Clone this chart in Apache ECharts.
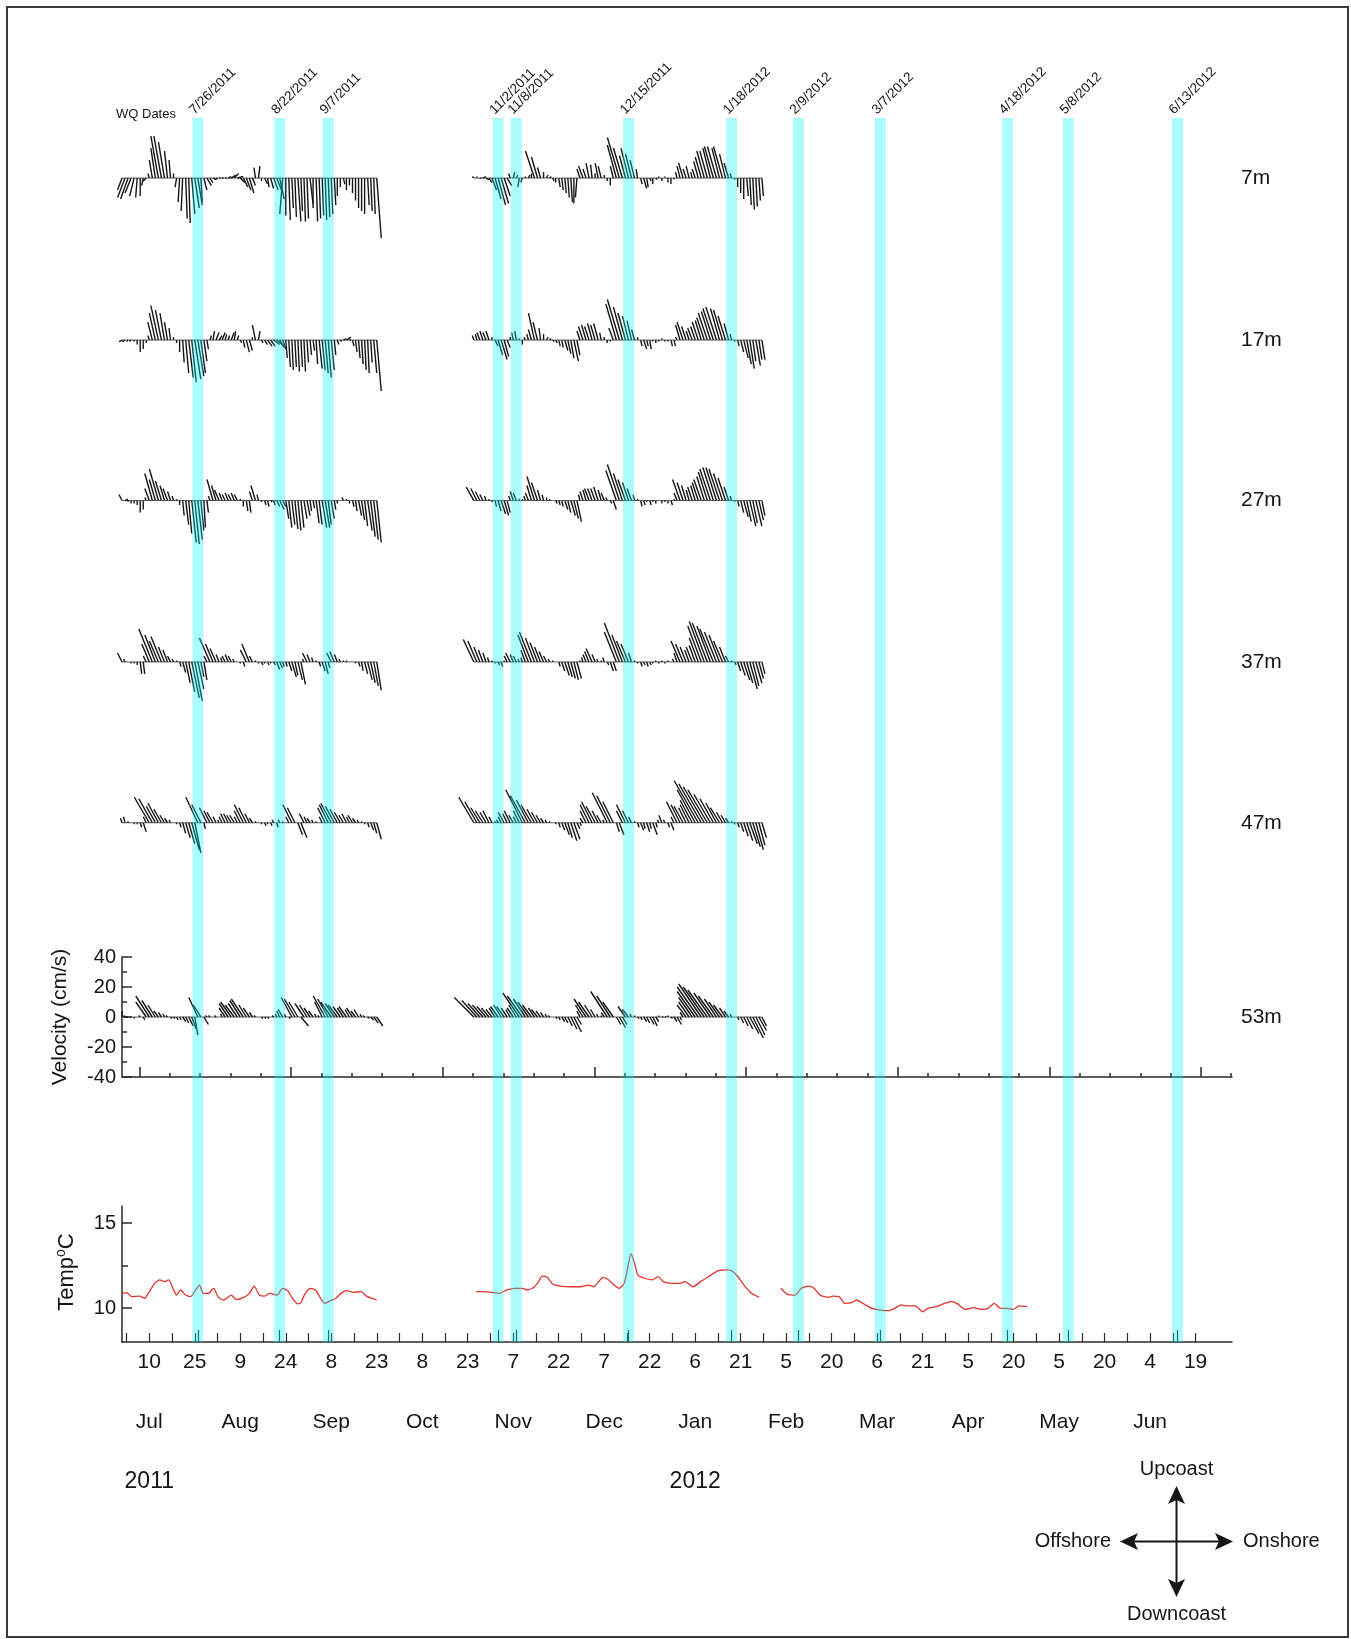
<!DOCTYPE html>
<html>
<head>
<meta charset="utf-8">
<title>Current velocity and temperature, Jul 2011 - Jun 2012</title>
<script src="https://cdn.jsdelivr.net/npm/echarts@6/dist/echarts.min.js"></script>
<style>
  html, body { margin: 0; padding: 0; background: #fff; }
  #chart { width: 1351px; height: 1639px; }
</style>
</head>
<body>
<div id="chart"></div>
<script>
// ---------------------------------------------------------------------------
// Data
// ---------------------------------------------------------------------------
// Water-quality sampling dates (shaded bands)
const wqDates = ['7/26/2011', '8/22/2011', '9/7/2011', '11/2/2011', '11/8/2011', '12/15/2011',
  '1/18/2012', '2/9/2012', '3/7/2012', '4/18/2012', '5/8/2012', '6/13/2012'];

// Labelled ticks of the time axis (every 15 days)
const tickDates = ['2011-07-10', '2011-07-25', '2011-08-09', '2011-08-24', '2011-09-08', '2011-09-23',
  '2011-10-08', '2011-10-23', '2011-11-07', '2011-11-22', '2011-12-07', '2011-12-22',
  '2012-01-06', '2012-01-21', '2012-02-05', '2012-02-20', '2012-03-06', '2012-03-21',
  '2012-04-05', '2012-04-20', '2012-05-05', '2012-05-20', '2012-06-04', '2012-06-19'];
const monthNames = ['Jan', 'Feb', 'Mar', 'Apr', 'May', 'Jun', 'Jul', 'Aug', 'Sep', 'Oct', 'Nov', 'Dec'];

// Velocity records: daily sticks, two deployments
const deployStartA = '2011-07-01';
const deployStartB = '2011-10-25';
const depths = ['7m', '17m', '27m', '37m', '47m', '53m'];

// v = upcoast(+)/downcoast(-), u = onshore(+)/offshore(-), cm/s
const v7a = [-8,-13,-14,-10,-12,-13,-12,-5,-2,3, 12,20,28,28,24,18,12,3,-6,-16, -22,-27,-30,-24,-20,-18,-16,-8,-5,-3,
  -1,-1,0,0,0,1,2,3,1,-3, -6,-8,-10,-5,7,8,-2,-4,-6,-7, -8,-10,-14,-24,-25,-28,-20,-26,-29,-22,
  -29,-27,-17,-20,-29,-27,-25,-28,-26,-24, -18,-12,-6,-4,-8,-5,-10,-15,-20,-22, -24,-18,-22,-24,-40];
const u7a = [-3,-5,-5,-4,-3,-1,0,-1,-2,-1, -2,-3,-5,-5,-4,-2,-1,0,-1,-1, -1,1,1,2,3,3,1,2,3,2,
  2,1,1,1,1,2,3,3,4,3, 3,3,3,2,-1,1,0,2,1,2, 3,4,3,-2,0,1,1,1,2,1,
  1,1,2,0,1,1,1,1,1,1, 1,0,0,1,0,0,0,0,0,0, 0,1,1,1,3];
const v7b = [1,1,0,1,-1,-3,-8,-14,-18,-17, -12,-5,3,4,2,-6,-3,1,2,3, 18,14,7,4,2,1,-2,-3,-6,-8,
  -10,-13,-16,-17,-13,6,8,6,10,9, 3,10,8,2,-2,-5,8,22,27,20, 15,20,16,12,6,-4,-7,-6,-2,-4,
  -1,1,-2,1,-3,-4,-1,4,8,10, 6,8,4,6,11,14,18,18,20,21, 21,20,21,16,10,3,-1,-6,-10,-14, -12,-18,-21,-19,-15,-12];
const u7b = [-1,0,1,2,2,2,3,4,5,5, 4,3,-1,1,1,-1,-1,0,1,0, -6,-4,-2,0,1,1,1,0,1,1,
  1,1,1,0,-1,-2,-3,-2,-2,-1, 0,-2,-2,0,0,0,-2,-6,-8,-6, -4,-5,-4,-3,-1,1,2,1,1,0,
  1,0,0,0,0,0,0,-1,-2,-3, -2,-2,-1,-2,-3,-4,-5,-5,-5,-6, -6,-5,-6,-4,-3,-1,0,0,0,0, 1,1,1,1,1,1];

const v17a = [-1,-1,-1,-1,-1,-3,-8,-6,-2,3, 12,18,23,20,18,12,8,2,-2,-8, -15,-22,-25,-28,-26,-24,-22,-14,-6,3,
  6,5,3,5,4,3,5,6,3,-2, -5,-8,-7,2,10,6,-2,-3,-4,-4, -3,-4,-5,-6,-12,-18,-20,-18,-21,-18,
  -21,-15,-10,-7,-16,-19,-20,-22,-25,-20, -10,-3,-1,1,2,0,-4,-8,-12,-16, -20,-22,-15,-22,-34];
const u17a = [-2,-2,-1,-1,0,0,0,0,0,-1, -3,-4,-5,-4,-3,-2,-1,0,0,0, 1,2,3,3,4,4,3,2,1,1,
  1,2,2,2,1,1,2,1,1,1, 1,2,2,0,-2,1,1,2,3,3, 4,5,3,2,1,1,1,1,1,1,
  1,1,1,1,1,2,2,2,2,2, 1,1,1,2,3,1,1,1,1,1, 1,1,1,2,3];
const v17b = [3,4,5,6,5,6,2,-4,-10,-13, -11,-5,2,5,6,1,-3,2,4,7, 18,12,8,4,2,1,-1,-2,-4,-5,
  -7,-9,-12,-14,-10,6,9,10,9,11, 10,11,5,2,-2,-1,8,24,27,22, 18,16,13,7,2,-4,-6,-4,-6,-1,
  -2,-1,1,-1,-1,-4,-4,2,10,12, 9,6,8,9,12,13,15,18,19,21, 22,21,20,16,11,4,-1,-4,-8,-12, -16,-19,-14,-17,-13,-13];
const u17b = [-1,-1,-2,-2,-2,-2,0,2,3,4, 3,2,0,-1,-1,0,0,-1,-1,-2, -4,-3,-1,0,1,1,1,1,1,1,
  2,2,2,3,2,-2,-3,-3,-3,-3, -3,-3,-1,0,0,0,-3,-7,-8,-6, -5,-4,-3,-2,0,1,2,1,1,0,
  0,0,0,0,0,1,1,-1,-3,-4, -3,-2,-3,-3,-4,-4,-5,-6,-6,-7, -7,-6,-6,-5,-3,-1,0,1,2,3, 3,3,2,3,2,2];

const v27a = [4,1,-1,-2,-2,-3,-8,-6,2,8, 18,14,21,13,10,8,6,3,1,-3, -10,-16,-22,-28,-29,-26,-20,-18,-8,3,
  14,10,7,5,4,5,4,5,4,1, -4,-7,-8,6,10,4,-1,-3,-4,-1, -3,-4,-6,-4,-12,-18,-16,-19,-20,-18,
  -12,-10,-7,-5,-15,-16,-18,-18,-16,-12, -6,-2,0,2,1,-2,-4,-7,-10,-13, -17,-20,-24,-26,-28];
const u27a = [-2,2,0,0,0,0,0,0,-1,-3, -5,-4,-6,-4,-3,-3,-2,-1,0,0, 1,2,2,3,3,3,2,1,1,-1,
  -4,-3,-3,-2,-2,-2,-2,-2,-2,0, 0,1,1,-2,-3,-1,0,1,1,1, 1,2,3,2,2,2,2,2,2,2,
  2,2,1,1,2,2,3,3,2,2, 1,0,0,-1,0,0,1,1,2,2, 2,3,3,3,3];
const v27b = [9,8,6,4,3,1,-1,-4,-7,-9, -10,-8,3,6,5,1,1,3,5,10, 16,12,7,4,2,1,0,-2,-3,-4,
  -6,-8,-10,-12,-14,4,6,7,8,8, 8,9,7,5,2,-2,-6,20,24,18, 14,12,8,4,1,-4,-3,-1,-3,-1,
  -2,0,-2,-1,-2,-3,1,5,14,12, 10,7,9,10,12,14,16,19,21,22, 22,21,18,15,9,3,-1,-4,-8,-11, -14,-17,-15,-17,-13,-10];
const u27b = [-5,-4,-3,-2,-1,0,0,1,2,3, 3,2,-1,-2,-2,0,0,-1,-2,-3, -5,-4,-2,-1,0,0,0,1,1,1,
  2,2,3,3,3,-1,-2,-2,-3,-3, -3,-3,-2,-2,-1,1,2,-7,-8,-6, -5,-4,-3,-1,0,1,1,0,1,0,
  0,0,0,0,0,1,0,-2,-5,-4, -3,-2,-3,-3,-4,-5,-5,-6,-7,-7, -7,-7,-6,-5,-3,-1,0,1,2,3, 3,4,3,4,3,2];

const v37a = [6,2,0,-1,-1,-2,-8,-8,4,12, 22,18,14,17,10,8,4,2,1,-3, -7,-14,-20,-24,-26,-18,-10,-12,4,16,
  12,9,5,3,4,5,4,2,0,-1, -3,8,12,4,1,-1,-2,-1,-2,-1, -2,-5,-4,-3,-3,-6,-10,-9,-12,-15,
  2,6,5,3,1,-3,-6,-8,-4,6, 7,5,2,1,1,0,0,-1,-3,-6, -8,-12,-14,-16,-19];
const u37a = [-3,-1,0,0,0,0,1,1,-2,-5, -9,-7,-6,-7,-4,-3,-2,-1,0,1, 2,3,4,5,5,4,2,2,-2,-7,
  -5,-4,-2,-1,-2,-2,-2,-1,0,0, 1,-4,-5,-2,0,0,1,0,1,0, 1,2,2,1,1,2,3,2,3,3,
  -1,-3,-2,-1,0,1,2,2,1,-3, -3,-2,-1,0,0,0,0,0,1,1, 2,3,3,3,3];
const v37b = [15,14,10,8,6,3,1,-1,-2,-3, 1,4,6,5,4,2,3,8,18,20, 16,13,10,7,4,2,1,0,-3,-6,
  -9,-10,-11,-12,-11,1,3,5,7,9, 5,2,1,3,-2,-6,-6,20,26,18, 14,12,6,1,-1,-3,-2,-3,-2,-1,
  1,-1,1,-1,1,0,2,6,14,12, 10,8,10,11,16,24,27,26,24,22, 20,18,14,10,4,1,-2,-6,-9,-12, -14,-18,-16,-14,-11,-8];
const u37b = [-7,-6,-4,-3,-2,-1,0,0,1,1, 0,-2,-3,-2,-2,-1,-1,-3,-7,-8, -6,-5,-4,-3,-2,-1,0,0,1,2,
  3,3,3,3,3,0,-1,-2,-3,-4, -2,-1,0,-1,1,2,2,-8,-10,-7, -6,-5,-2,0,0,1,1,1,1,0,
  0,0,0,0,0,0,-1,-2,-6,-5, -4,-3,-4,-4,-6,-9,-10,-10,-9,-9, -8,-7,-6,-4,-2,0,1,2,3,4, 4,5,4,4,3,2];

const v47a = [3,4,1,0,-1,-1,-3,-6,4,17, 16,11,13,9,5,3,2,0,-1,-3, -7,-10,-14,-18,-20,17,12,-4,10,8,
  7,4,2,4,6,6,5,5,4,8, 12,10,6,3,1,0,-1,-2,-1,-2, 2,-3,2,1,0,4,12,10,-8,-10,
  6,4,3,2,1,0,4,10,12,13, 11,9,7,5,6,4,5,3,2,1, -1,-3,-5,-7,-11];
const u47a = [-1,-1,0,0,0,0,1,2,-2,-10, -9,-6,-7,-5,-3,-2,-1,0,0,1, 2,3,4,5,4,-8,-6,1,-5,-4,
  -4,-2,-1,-2,-3,-3,-3,-3,-2,-4, -6,-5,-3,-2,0,0,0,1,0,1, -1,1,-1,0,0,-2,-6,-5,3,4,
  -3,-2,-2,-1,0,0,-2,-5,-6,-7, -6,-5,-4,-3,-3,-2,-3,-2,-1,0, 0,1,2,2,3];
const v47b = [17,14,10,8,7,8,4,1,2,4, 7,6,8,5,4,8,22,18,15,12, 9,7,5,3,2,1,0,-1,-3,-5,
  -8,-10,-12,-11,-4,-2,3,8,12,14, 11,8,5,2,20,18,14,-6,-8,8, 12,8,4,1,-3,-5,-4,-6,-4,-8,
  -3,2,5,2,-3,-5,4,14,12,11, 10,12,15,22,28,26,24,22,19,16, 13,10,7,5,3,1,-1,-3,-6,-9, -12,-14,-16,-18,-15,-10];
const u47b = [-10,-8,-6,-5,-4,-4,-2,0,-1,-2, -4,-3,-4,-3,-2,-4,-11,-10,-8,-7, -5,-4,-3,-2,-1,0,0,0,1,2,
  3,3,4,4,2,1,-2,-4,-6,-7, -6,-4,-3,-1,-10,-9,-7,2,3,-4, -6,-4,-2,0,1,2,1,2,1,3,
  1,-1,-2,-1,1,2,-2,-7,-6,-6, -5,-6,-8,-12,-16,-15,-14,-13,-11,-9, -7,-6,-4,-3,-2,0,0,1,2,3, 4,5,5,5,4,3];

const v53a = [4,1,0,0,-1,0,1,-2,10,14, 11,8,4,3,2,1,-1,-1,-2,-2, -3,-4,-6,-8,-12,13,8,-5,1,1,
  0,1,0,2,6,9,10,8,9,11, 12,8,6,3,1,0,-1,-1,-1,0, 1,2,4,5,2,-1,13,12,10,-6,
  9,8,6,4,2,1,10,14,12,10, 9,8,7,6,7,5,6,4,5,2, 1,-1,-2,-4,-6];
const u53a = [0,-1,-2,-1,0,0,-1,1,-7,-9, -7,-5,-3,-2,-1,-1,1,1,1,1, 2,2,3,3,2,-6,-5,3,-1,-1,
  0,-1,0,-1,-4,-6,-7,-6,-6,-7, -8,-5,-4,-2,-1,0,1,1,1,0, -1,-1,-2,-3,-1,1,-7,-7,-6,5,
  -6,-5,-4,-3,-1,-1,-5,-8,-7,-7, -6,-6,-5,-4,-5,-3,-4,-3,-3,-1, -1,1,2,3,4];
const v53b = [13,11,9,8,7,6,5,6,7,8, 7,6,5,6,8,16,14,12,10,8, 6,5,4,3,2,1,0,-1,-2,-3,
  -4,-6,-8,-10,-5,4,8,12,10,8, 5,2,1,3,17,14,10,-5,-7,-5, 7,5,2,1,-1,-2,-3,-4,-5,-6,
  -3,1,0,0,1,-1,-3,-5,-2,3, 8,10,13,17,20,22,20,18,16,14, 12,10,8,6,4,2,0,-2,-4,-6, -8,-11,-14,-12,-9,-6];
const u53b = [-13,-10,-8,-7,-6,-5,-4,-4,-5,-5, -5,-4,-3,-4,-5,-11,-10,-8,-7,-6, -4,-4,-3,-2,-1,-1,0,1,1,2,
  2,3,4,5,3,-2,-5,-8,-7,-5, -3,-1,0,-2,-11,-9,-7,3,4,3, -5,-4,-1,0,1,1,2,2,3,3,
  2,0,1,1,0,1,2,3,1,-2, -6,-7,-9,-12,-14,-15,-14,-13,-11,-10, -8,-7,-6,-4,-3,-1,0,1,2,3, 4,6,7,6,5,3];

// Temperature (deg C) at [days after 1 Jul 2011, value], three records
const tempJulSep = [[0,10.86],[1.6,10.9],[3.2,10.67],[5.8,10.7],[7.5,10.57],[9,10.96],[10.8,11.45],[12.5,11.65],
  [14,11.55],[15.4,11.65],[17,11.06],[18,10.76],[19.3,11.06],[21,10.76],[22.6,10.67],[24.3,11.06],[25.5,11.35],
  [26.8,10.86],[28.5,10.86],[30.2,11.16],[31.8,10.63],[33.5,10.47],[36,10.76],[37.7,10.5],[40.2,10.63],[42,10.86],
  [43.6,11.29],[45.3,10.76],[47,10.7],[48.7,10.86],[51.2,10.76],[52.9,11.16],[54.6,11.02],[56.2,10.57],[57.9,10.24],
  [59,10.31],[60.4,10.86],[62.1,11.16],[63.8,11.06],[65.5,10.57],[66.8,10.27],[68.8,10.43],[70.5,10.57],[72.2,10.86],
  [73.9,11.02],[76.4,10.92],[78.9,10.96],[80.6,10.7],[84,10.47]];
const tempOctJan = [[116.8,10.96],[119.3,10.96],[121.8,10.92],[124.4,10.86],[126.9,11.06],[129.4,11.16],[132,11.16],
  [133.6,11.06],[135.3,11.16],[137,11.45],[138.6,11.88],[140.3,11.8],[142,11.41],[144.5,11.29],[147.9,11.25],
  [151.3,11.25],[153.8,11.35],[155.5,11.25],[157.2,11.55],[158.5,11.8],[160.5,11.65],[162.2,11.35],[163.9,11.16],
  [165.6,11.45],[166.7,12.33],[167.8,13.2],[169,12.63],[170.1,11.94],[172.3,11.75],[174.8,11.65],[176.8,11.84],
  [178.5,11.55],[181.5,11.45],[184,11.45],[185.7,11.55],[188.3,11.25],[190.8,11.55],[193.3,11.84],[196.7,12.2],
  [199.2,12.24],[200.9,12.2],[202.6,11.94],[205.1,11.35],[207.6,10.86],[210.1,10.63]];
const tempFebApr = [[217.2,11.16],[219.3,10.82],[222,10.76],[224,11.16],[226.4,11.29],[228.2,11.16],[230.2,10.76],
  [233,10.63],[234.3,10.7],[236.4,10.67],[238.4,10.27],[240.5,10.31],[242.2,10.47],[244.6,10.24],[247.3,9.98],
  [250,9.88],[252.8,9.84],[254.8,9.98],[256.9,10.18],[258.9,10.12],[261.6,10.12],[264,9.78],[265.7,9.98],
  [268.5,10.08],[271.2,10.27],[273.3,10.37],[275.3,10.27],[278,9.92],[280.8,10.02],[283.5,9.92],[285.5,9.98],
  [287.6,10.27],[289.7,9.98],[291.7,9.98],[293.8,9.92],[295.8,10.12],[298.5,10.08]];

// ---------------------------------------------------------------------------
// Helpers
// ---------------------------------------------------------------------------
const ORIGIN = Date.UTC(2011, 6, 1);
const DAY = 864e5;
const isoDay = s => { const [y, m, d] = s.split('-').map(Number); return (Date.UTC(y, m - 1, d) - ORIGIN) / DAY; };
const usDay = s => { const [m, d, y] = s.split('/').map(Number); return (Date.UTC(y, m - 1, d) - ORIGIN) / DAY; };

const FONT = '"Liberation Sans", Arial, Helvetica, sans-serif';
const INK = '#151515';
const AXIS = '#2a2a2a';

const wqDays = wqDates.map(usDay);
const labelDays = tickDates.map(isoDay);
// 7.5-day tick spacing on the time axis
const tempTicks = [labelDays[0] - 7.5];
labelDays.forEach((d, i) => { tempTicks.push(d); if (i < labelDays.length - 1) tempTicks.push((d + labelDays[i + 1]) / 2); });
// Velocity panel: ticks every 10 days, longer ones every 50 days
const velTicks = [], velMajor = [];
for (let k = 0; k < 37; k++) { const t = 5.75 + 10 * k; velTicks.push(t); if (k % 5 === 0) velMajor.push(t); }

// Vertical offset of each depth's zero line in the stick panel (cm/s units)
const depthOffsets = [559.3, 451.3, 344.3, 236.7, 129.5, 0];
const depthRecords = [
  [v7a, u7a, v7b, u7b], [v17a, u17a, v17b, u17b], [v27a, u27a, v27b, u27b],
  [v37a, u37a, v37b, u37b], [v47a, u47a, v47b, u47b], [v53a, u53a, v53b, u53b]
];

const startA = isoDay(deployStartA), startB = isoDay(deployStartB);
function stickData(rec, base) {
  const out = [];
  const push = (vArr, uArr, start) => vArr.forEach((v, i) =>
    out.push([start + i, base, uArr[i], v, i === vArr.length - 1 ? 1 : 0]));
  push(rec[0], rec[1], startA);
  push(rec[2], rec[3], startB);
  return out;
}

function renderStick(params, api) {
  const p = api.coord([api.value(0), api.value(1)]);
  const s = api.size([1, 1]);        // [px per day, px per cm/s]
  const k = s[1];
  const children = [];
  if (!api.value(4)) {
    children.push({ type: 'line', shape: { x1: p[0], y1: p[1], x2: p[0] + s[0], y2: p[1] },
      style: { stroke: '#5a5a5a', lineWidth: 1 } });
  }
  children.push({ type: 'line',
    shape: { x1: p[0], y1: p[1], x2: p[0] + api.value(2) * k, y2: p[1] - api.value(3) * k },
    style: { stroke: INK, lineWidth: 1.4 } });
  return { type: 'group', children };
}

const BAND_TOP = 118;
function renderBand(params, api) {
  const d = api.value(0);
  const l = api.coord([d - 1.8, 8]);
  const r = api.coord([d + 1.8, 8]);
  return { type: 'group', children: [
    { type: 'rect', shape: { x: l[0], y: BAND_TOP, width: r[0] - l[0], height: l[1] - BAND_TOP },
      style: { fill: 'rgba(0,245,245,0.33)' } },
    { type: 'text', x: (l[0] + r[0]) / 2 - 1, y: BAND_TOP - 1, rotation: Math.PI / 4,
      style: { text: wqDates[params.dataIndex], font: '13.5px ' + FONT, fill: INK, align: 'left', verticalAlign: 'bottom' } }
  ] };
}

function renderDepthLabel(params, api) {
  const p = api.coord([api.value(0), api.value(1)]);
  return { type: 'text', x: p[0] + 9, y: p[1],
    style: { text: depths[params.dataIndex], font: '21px ' + FONT, fill: INK, align: 'left', verticalAlign: 'middle' } };
}

function timeLabel(val) {
  const dt = new Date(ORIGIN + Math.round(val) * DAY);
  const d = dt.getUTCDate(), m = dt.getUTCMonth();
  let s = '{d|' + d + '}';
  if (d <= 15) {
    s += '\n{m|' + monthNames[m] + '}';
    if (m === 6 || m === 0) s += '\n{y|' + dt.getUTCFullYear() + '}';
  }
  return s;
}

// ---------------------------------------------------------------------------
// Chart
// ---------------------------------------------------------------------------
const chart = echarts.init(document.getElementById('chart'), null, { renderer: 'canvas' });

const gridBase = { left: 122, width: 1110, outerBoundsMode: 'none', containLabel: false };

const series = [];
depthRecords.forEach((rec, i) => {
  series.push({
    type: 'custom', name: depths[i], xAxisIndex: 0, yAxisIndex: 0, clip: false, z: 2, silent: true,
    renderItem: renderStick, data: stickData(rec, depthOffsets[i])
  });
});
series.push({
  type: 'custom', xAxisIndex: 0, yAxisIndex: 0, clip: false, z: 2, silent: true,
  renderItem: renderDepthLabel, data: depthOffsets.map(o => [366, o])
});
[tempJulSep, tempOctJan, tempFebApr].forEach(seg => series.push({
  type: 'line', xAxisIndex: 2, yAxisIndex: 2, data: seg, showSymbol: false, symbol: 'none',
  smooth: 0.2, z: 3, silent: true, lineStyle: { color: '#e2332d', width: 1.3 }
}));
series.push({
  type: 'custom', xAxisIndex: 2, yAxisIndex: 2, clip: false, z: 6, silent: true,
  renderItem: renderBand, data: wqDays.map(d => [d, 8])
});

chart.setOption({
  animation: false,
  backgroundColor: '#ffffff',
  textStyle: { fontFamily: FONT },
  grid: [
    Object.assign({ top: 117, height: 960 }, gridBase),   // stick panel
    Object.assign({ top: 957, height: 120 }, gridBase),   // velocity scale
    Object.assign({ top: 1206, height: 136 }, gridBase),  // temperature
    Object.assign({ top: 1206, height: 136 }, gridBase)   // temperature, extra ticks
  ],
  xAxis: [
    { gridIndex: 0, type: 'value', min: 0, max: 366, position: 'bottom',
      axisLine: { show: false, onZero: false }, splitLine: { show: false }, axisLabel: { show: false },
      axisTick: { show: true, inside: true, length: 10, customValues: velMajor, lineStyle: { color: AXIS, width: 1.5 } } },
    { gridIndex: 1, type: 'value', min: 0, max: 366, position: 'bottom',
      axisLine: { show: true, onZero: false, lineStyle: { color: AXIS, width: 1.5 } }, splitLine: { show: false },
      axisLabel: { show: false },
      axisTick: { show: true, inside: true, length: 4, customValues: velTicks, lineStyle: { color: AXIS, width: 1.5 } } },
    { gridIndex: 2, type: 'value', min: 0, max: 366, position: 'bottom',
      axisLine: { show: true, onZero: false, lineStyle: { color: AXIS, width: 1.5 } }, splitLine: { show: false },
      axisTick: { show: true, inside: true, length: 9, customValues: tempTicks, lineStyle: { color: AXIS, width: 1.2 } },
      axisLabel: {
        show: true, customValues: labelDays, margin: 8, formatter: timeLabel, color: INK,
        rich: {
          d: { fontSize: 21, lineHeight: 24, fontFamily: FONT, color: INK, align: 'center' },
          m: { fontSize: 21, lineHeight: 96, fontFamily: FONT, color: INK, align: 'center' },
          y: { fontSize: 23, lineHeight: 24, fontFamily: FONT, color: INK, align: 'center' }
        }
      } },
    { gridIndex: 3, type: 'value', min: 0, max: 366, position: 'bottom',
      axisLine: { show: false, onZero: false }, splitLine: { show: false }, axisLabel: { show: false },
      axisTick: { show: true, inside: true, length: 12, customValues: wqDays, lineStyle: { color: AXIS, width: 1.2 } } }
  ],
  yAxis: [
    { gridIndex: 0, type: 'value', min: -40, max: 600, show: false },
    { gridIndex: 1, type: 'value', min: -40, max: 40, interval: 20,
      axisLine: { show: true, onZero: false, lineStyle: { color: AXIS, width: 1.5 } }, splitLine: { show: false },
      axisTick: { show: true, inside: true, length: 10, lineStyle: { color: AXIS, width: 1.5 } },
      minorTick: { show: true, splitNumber: 2, length: 5, lineStyle: { color: AXIS, width: 1.5 } },
      axisLabel: { fontSize: 20, color: INK, margin: 6, fontFamily: FONT } },
    { gridIndex: 2, type: 'value', min: 8, max: 16,
      axisLine: { show: true, onZero: false, lineStyle: { color: AXIS, width: 1.5 } }, splitLine: { show: false },
      axisTick: { show: true, inside: true, length: 10, customValues: [10, 15], lineStyle: { color: AXIS, width: 1.5 } },
      axisLabel: { customValues: [10, 15], fontSize: 20, color: INK, margin: 6, fontFamily: FONT } },
    { gridIndex: 3, type: 'value', min: 8, max: 16,
      axisLine: { show: false, onZero: false }, splitLine: { show: false }, axisLabel: { show: false },
      axisTick: { show: true, inside: true, length: 6, customValues: [12.5], lineStyle: { color: AXIS, width: 1.5 } } }
  ],
  series: series,
  graphic: [
    { type: 'rect', shape: { x: 7, y: 7, width: 1341, height: 1630 }, silent: true,
      style: { fill: 'none', stroke: '#3a3a3a', lineWidth: 2 } },
    { type: 'text', x: 116, y: 114, silent: true,
      style: { text: 'WQ Dates', font: '13px ' + FONT, fill: INK, align: 'left', verticalAlign: 'middle' } },
    { type: 'text', x: 60, y: 1017, rotation: Math.PI / 2, silent: true,
      style: { text: 'Velocity (cm/s)', font: '21px ' + FONT, fill: INK, align: 'center', verticalAlign: 'middle' } },
    { type: 'text', x: 67, y: 1272, rotation: Math.PI / 2, silent: true,
      style: { text: '{a|Temp}{b|o}{a|C}', align: 'center', verticalAlign: 'middle',
        rich: {
          a: { font: '22px ' + FONT, fill: INK, lineHeight: 26 },
          b: { font: '14px ' + FONT, fill: INK, lineHeight: 26, verticalAlign: 'top' }
        } } },
    // Compass
    { type: 'group', silent: true, children: [
      { type: 'line', shape: { x1: 1128, y1: 1541.5, x2: 1225, y2: 1541.5 }, style: { stroke: INK, lineWidth: 2 } },
      { type: 'line', shape: { x1: 1176.5, y1: 1494, x2: 1176.5, y2: 1589 }, style: { stroke: INK, lineWidth: 2 } },
      { type: 'polygon', shape: { points: [[1120, 1541.5], [1138, 1533], [1134, 1541.5], [1138, 1550]] }, style: { fill: INK } },
      { type: 'polygon', shape: { points: [[1233, 1541.5], [1215, 1533], [1219, 1541.5], [1215, 1550]] }, style: { fill: INK } },
      { type: 'polygon', shape: { points: [[1176.5, 1486], [1168, 1504], [1176.5, 1500], [1185, 1504]] }, style: { fill: INK } },
      { type: 'polygon', shape: { points: [[1176.5, 1597], [1168, 1579], [1176.5, 1583], [1185, 1579]] }, style: { fill: INK } },
      { type: 'text', x: 1176.5, y: 1469, style: { text: 'Upcoast', font: '20px ' + FONT, fill: INK, align: 'center', verticalAlign: 'middle' } },
      { type: 'text', x: 1176.5, y: 1614, style: { text: 'Downcoast', font: '20px ' + FONT, fill: INK, align: 'center', verticalAlign: 'middle' } },
      { type: 'text', x: 1111, y: 1541.5, style: { text: 'Offshore', font: '20px ' + FONT, fill: INK, align: 'right', verticalAlign: 'middle' } },
      { type: 'text', x: 1243, y: 1541.5, style: { text: 'Onshore', font: '20px ' + FONT, fill: INK, align: 'left', verticalAlign: 'middle' } }
    ] }
  ]
});
</script>
</body>
</html>
